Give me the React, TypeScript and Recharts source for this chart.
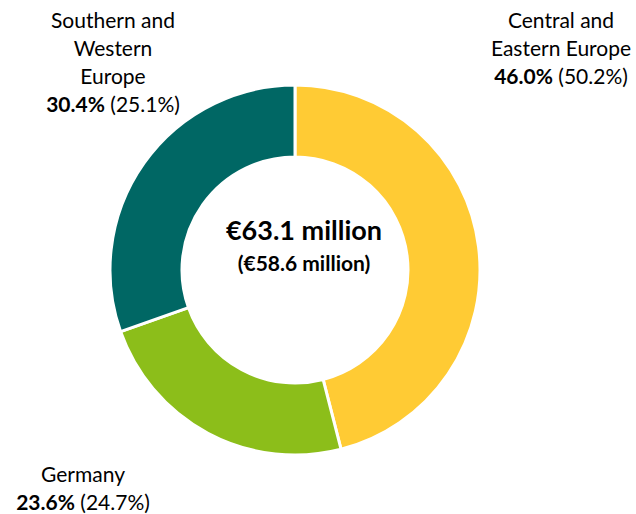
import React from "react";
import { PieChart, Pie, Cell } from "recharts";

const regions = ["Central and Eastern Europe", "Germany", "Southern and Western Europe"];
const shares = [46.0, 23.6, 30.4];
const priorShares = [50.2, 24.7, 25.1];
const colors = ["#FFCB34", "#8CBE1A", "#006764"];
const totalNow = "€63.1 million";
const totalPrior = "(€58.6 million)";

const pieData = regions.map((name, i) => ({ name, value: shares[i], prior: priorShares[i] }));

const font = "Lato, 'Open Sans', sans-serif";

function CornerLabel({ lines, idx, style }: { lines: string[]; idx: number; style: React.CSSProperties }) {
  return (
    <div
      style={{
        position: "absolute",
        textAlign: "center",
        fontFamily: font,
        fontSize: 21,
        lineHeight: "28px",
        color: "#000",
        whiteSpace: "nowrap",
        ...style,
      }}
    >
      {lines.map((l) => (
        <div key={l}>{l}</div>
      ))}
      <div>
        <b>{shares[idx].toFixed(1)}%</b> ({priorShares[idx].toFixed(1)}%)
      </div>
    </div>
  );
}

export default function App() {
  return (
    <div style={{ position: "absolute", left: 0, top: 0, width: 636, height: 514, background: "#fff" }}>
      <PieChart width={636} height={514} margin={{ top: 0, right: 0, bottom: 0, left: 0 }}>
        <Pie
          data={pieData}
          dataKey="value"
          cx={295}
          cy={270}
          innerRadius={113}
          outerRadius={185}
          startAngle={90}
          endAngle={-270}
          stroke="#fff"
          strokeWidth={3}
          isAnimationActive={false}
        >
          {pieData.map((d, i) => (
            <Cell key={d.name} fill={colors[i]} />
          ))}
        </Pie>
      </PieChart>
      <div
        style={{
          position: "absolute",
          left: 154,
          top: 212,
          width: 300,
          textAlign: "center",
          fontFamily: font,
          fontWeight: "bold",
          color: "#000",
          whiteSpace: "nowrap",
        }}
      >
        <div style={{ fontSize: 27, lineHeight: "36px" }}>{totalNow}</div>
        <div style={{ fontSize: 21, lineHeight: "30px" }}>{totalPrior}</div>
      </div>
      <CornerLabel lines={["Southern and", "Western", "Europe"]} idx={2} style={{ left: 13, top: 6, width: 200 }} />
      <CornerLabel lines={["Central and", "Eastern Europe"]} idx={0} style={{ left: 461, top: 6, width: 200 }} />
      <CornerLabel lines={["Germany"]} idx={1} style={{ left: -17, top: 460, width: 200 }} />
    </div>
  );
}
